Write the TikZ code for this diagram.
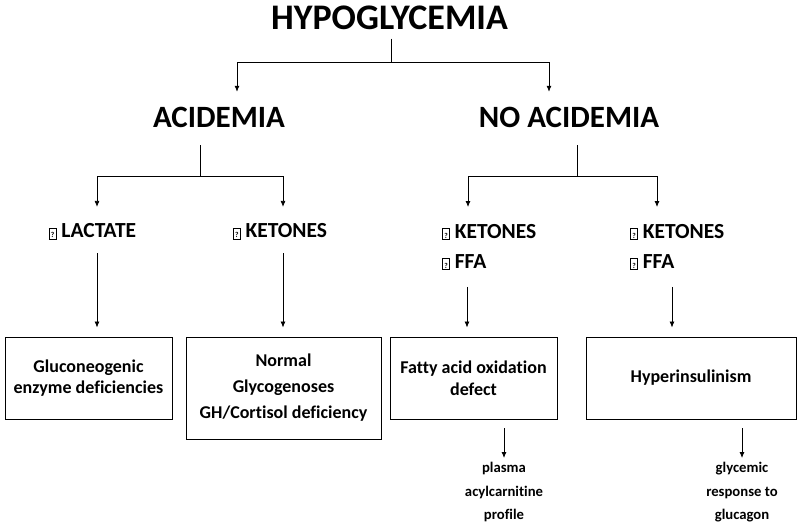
\documentclass[tikz,border=0pt]{standalone}
\usepackage{fontspec}
\setmainfont{Carlito}[BoldFont={Carlito Bold}, Ligatures=NoCommon]
\usetikzlibrary{arrows.meta}
\newcommand\unkglyph{\raisebox{0pt}{\setlength\fboxsep{0.7pt}\setlength\fboxrule{0.7pt}\fbox{\fontsize{7.5}{7.5}\selectfont\rule{0pt}{9pt}\makebox[5pt]{?}}}}
\begin{document}
\begin{tikzpicture}[x=1pt,y=-1pt,
  arr/.style={draw, line width=0.8pt, -{Latex[length=6pt,width=5pt]}},
  ln/.style={draw, line width=0.8pt},
  top/.style={font=\fontsize{36}{36}\selectfont\bfseries, inner sep=0pt, text height=23pt, text depth=0pt},
  head/.style={font=\fontsize{31}{31}\selectfont\bfseries, inner sep=0pt, text height=20pt, text depth=0pt},
  mid/.style={font=\fontsize{21.5}{30}\selectfont\bfseries, inner sep=0pt, align=left},
  midone/.style={mid, text height=13.8pt, text depth=0pt},
  boxn/.style={draw, line width=0.9pt, inner sep=0pt, align=center, font=\fontsize{18}{21.5}\selectfont\bfseries},
  foot/.style={font=\fontsize{14.7}{23.5}\selectfont\bfseries, align=center, inner sep=0pt}]
\useasboundingbox (0,0) rectangle (800,522);

\node[top] (hypo) at (389.5,18) {HYPOGLYCEMIA};
\node[head] (acid) at (219,117.5) {ACIDEMIA};
\node[head] (noacid) at (569,117.5) {NO ACIDEMIA};

\node[midone] (lact) at (92.5,231) {\unkglyph{} LACTATE};
\node[midone] (ket1) at (280,231) {\unkglyph{} KETONES};
\node[mid, anchor=north west] (ket2) at (442,224) {\unkglyph{} KETONES\\\unkglyph{} FFA};
\node[mid, anchor=north west] (ket3) at (630,224) {\unkglyph{} KETONES\\\unkglyph{} FFA};

\node[boxn, minimum width=167pt, minimum height=82pt] (b1) at (88.5,378) {Gluconeogenic\\enzyme deficiencies};
\node[boxn, minimum width=195pt, minimum height=102pt] (b2) at (283.5,388) {Normal\\[4.5pt]Glycogenoses\\[4.5pt]GH/Cortisol deficiency};
\node[boxn, minimum width=167pt, minimum height=82pt] (b3) at (473.5,378) {Fatty acid oxidation\\defect};
\node[boxn, minimum width=210pt, minimum height=82pt] (b4) at (691,378) {Hyperinsulinism};

\node[foot, anchor=north] (p1) at (504,462) {plasma\\acylcarnitine\\profile};
\node[foot, anchor=north] (g1) at (742,462) {glycemic\\response to\\glucagon};

% top split
\coordinate (j0) at (391,62);
\draw[ln, shorten <=9pt] (hypo.south -| j0) -- (j0);
\draw[arr] (j0) -| ([xshift=18pt,yshift=15.5pt]acid.north);
\draw[arr] (j0) -| ([xshift=-20pt,yshift=15.5pt]noacid.north);

% acidemia split
\coordinate (j1) at (200,176);
\draw[ln, shorten <=17.5pt] (acid.south -| j1) -- (j1);
\draw[arr] (j1) -| ([xshift=4.5pt,yshift=17pt]lact.north);
\draw[arr] (j1) -| ([xshift=3pt,yshift=17pt]ket1.north);

% no acidemia split
\coordinate (j2) at (577,176);
\draw[ln, shorten <=17.5pt] (noacid.south -| j2) -- (j2);
\draw[arr] (j2) -| ([xshift=26pt,yshift=17pt]ket2.north west);
\draw[arr] (j2) -| ([xshift=27pt,yshift=17pt]ket3.north west);

% to boxes
\draw[arr, shorten <=15pt, shorten >=9pt] ([xshift=4.5pt]lact.south) -- ([xshift=4.5pt]lact.south |- b1.north);
\draw[arr, shorten <=15pt, shorten >=9pt] ([xshift=3pt]ket1.south) -- ([xshift=3pt]ket1.south |- b2.north);
\draw[arr, shorten <=17pt, shorten >=9pt] ([xshift=25pt]ket2.south west) -- ([xshift=25pt]ket2.south west |- b3.north);
\draw[arr, shorten <=17pt, shorten >=9pt] ([xshift=42pt]ket3.south west) -- ([xshift=42pt]ket3.south west |- b4.north);

% tests
\draw[arr, shorten <=9pt, shorten >=4pt] ([xshift=30.5pt]b3.south) -- ([xshift=30.5pt]b3.south |- p1.north);
\draw[arr, shorten <=9pt, shorten >=4pt] ([xshift=51pt]b4.south) -- ([xshift=51pt]b4.south |- g1.north);
\end{tikzpicture}
\end{document}
